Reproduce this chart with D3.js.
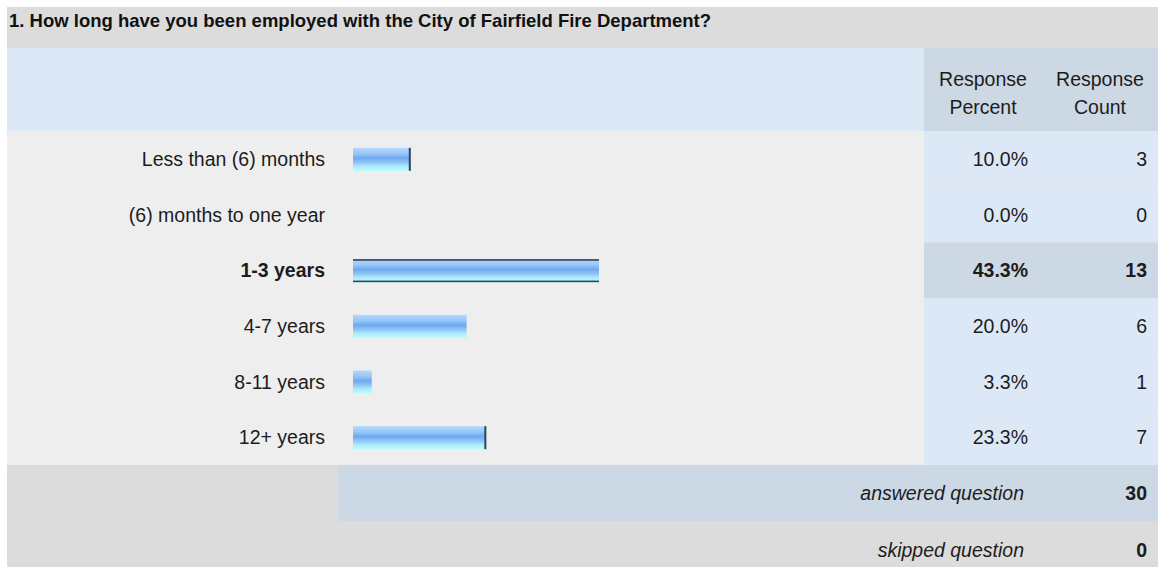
<!DOCTYPE html>
<html><head><meta charset="utf-8">
<script src="https://cdn.jsdelivr.net/npm/d3@7"></script>
<style>
html,body{margin:0;padding:0;background:#fff;}
svg{display:block;font-family:"Liberation Sans",Arial,sans-serif;}
</style></head>
<body>
<svg id="c" width="1161" height="567"></svg>
<script>
const title = "1. How long have you been employed with the City of Fairfield Fire Department?";
const categories = ["Less than (6) months","(6) months to one year","1-3 years","4-7 years","8-11 years","12+ years"];
const percents = [10.0, 0.0, 43.3, 20.0, 3.3, 23.3];
const counts = [3, 0, 13, 6, 1, 7];
const headerPercent = ["Response","Percent"];
const headerCount = ["Response","Count"];
const answeredLabel = "answered question";
const skippedLabel = "skipped question";
const answered = 30;
const skipped = 0;

const svg = d3.select("#c");
const L = 7, R = 1158;
const colPct = 924;
const fs = 19.5;
const ink = "#1c1c1c";

// title bar
svg.append("rect").attr("x",L).attr("y",7).attr("width",R-L).attr("height",41).attr("fill","#dcdcdc");
svg.append("text").attr("x",9).attr("y",27).attr("font-size",18.5).attr("font-weight","bold").attr("fill","#111")
  .text(title);

// header
svg.append("rect").attr("x",L).attr("y",48).attr("width",R-L).attr("height",83).attr("fill","#dce8f5");
svg.append("rect").attr("x",colPct).attr("y",48).attr("width",R-colPct).attr("height",83).attr("fill","#cdd8e5");
[[headerPercent,983],[headerCount,1100]].forEach(([lines,cx])=>{
  lines.forEach((t,i)=>{
    svg.append("text").attr("x",cx).attr("y",86+i*28).attr("text-anchor","middle")
      .attr("font-size",fs).attr("fill",ink).text(t);
  });
});

// body
const y = d3.scaleBand().domain(categories).range([131,465]);
const x = d3.scaleLinear().domain([0,100]).range([0,568]);
const x0 = 353;
const maxIdx = percents.indexOf(d3.max(percents));
const rightEdge = new Set([0,5]);

svg.append("rect").attr("x",L).attr("y",131).attr("width",R-L).attr("height",334).attr("fill","#eeeeee");

const defs = svg.append("defs");
const g = defs.append("linearGradient").attr("id","barg").attr("x1",0).attr("x2",0).attr("y1",0).attr("y2",1);
[[0,"#b2d8fd"],[0.25,"#98c6f8"],[0.45,"#70a8ef"],[0.62,"#8cc2f7"],[0.8,"#aee8fd"],[1,"#b6ffff"]]
  .forEach(([o,c])=>g.append("stop").attr("offset",o).attr("stop-color",c));

const rows = svg.append("g").selectAll("g").data(categories).join("g");
rows.each(function(cat,i){
  const gg = d3.select(this);
  const top = y(cat), h = y.bandwidth(), cy = top + h/2;
  const hi = i === maxIdx;
  gg.append("rect").attr("x",colPct).attr("y",top).attr("width",R-colPct).attr("height",h)
    .attr("fill", hi ? "#cdd8e5" : "#dce8f5");
  gg.append("text").attr("x",325).attr("y",cy+7).attr("text-anchor","end").attr("font-size",fs)
    .attr("font-weight", hi ? "bold" : "normal").attr("fill",ink).text(cat);
  const w = x(percents[i]);
  if (w > 0) {
    const by = cy - 11, bh = 23;
    gg.append("rect").attr("x",x0).attr("y",by).attr("width",w).attr("height",bh).attr("fill","url(#barg)");
    if (hi) {
      gg.append("rect").attr("x",x0).attr("y",by).attr("width",w).attr("height",1.6).attr("fill","#2c4460");
      gg.append("rect").attr("x",x0).attr("y",by+bh-1.6).attr("width",w).attr("height",1.6).attr("fill","#2c4460");
    }
    if (rightEdge.has(i)) {
      gg.append("rect").attr("x",x0+w-1).attr("y",by).attr("width",2).attr("height",bh).attr("fill","#2c4460");
    }
  }
  gg.append("text").attr("x",1028).attr("y",cy+7).attr("text-anchor","end").attr("font-size",fs)
    .attr("font-weight", hi ? "bold" : "normal").attr("fill",ink).text(d3.format(".1f")(percents[i])+"%");
  gg.append("text").attr("x",1147).attr("y",cy+7).attr("text-anchor","end").attr("font-size",fs)
    .attr("font-weight", hi ? "bold" : "normal").attr("fill",ink).text(counts[i]);
});

// answered / skipped
svg.append("rect").attr("x",L).attr("y",465).attr("width",R-L).attr("height",102).attr("fill","#dcdcdc");
svg.append("rect").attr("x",338).attr("y",465).attr("width",R-338).attr("height",56).attr("fill","#cdd8e5");
[[answeredLabel,answered,500],[skippedLabel,skipped,557]].forEach(([lab,v,by])=>{
  svg.append("text").attr("x",1024).attr("y",by).attr("text-anchor","end").attr("font-size",fs)
    .attr("font-style","italic").attr("fill",ink).text(lab);
  svg.append("text").attr("x",1147).attr("y",by).attr("text-anchor","end").attr("font-size",fs)
    .attr("font-weight","bold").attr("fill",ink).text(v);
});
</script>
</body></html>
